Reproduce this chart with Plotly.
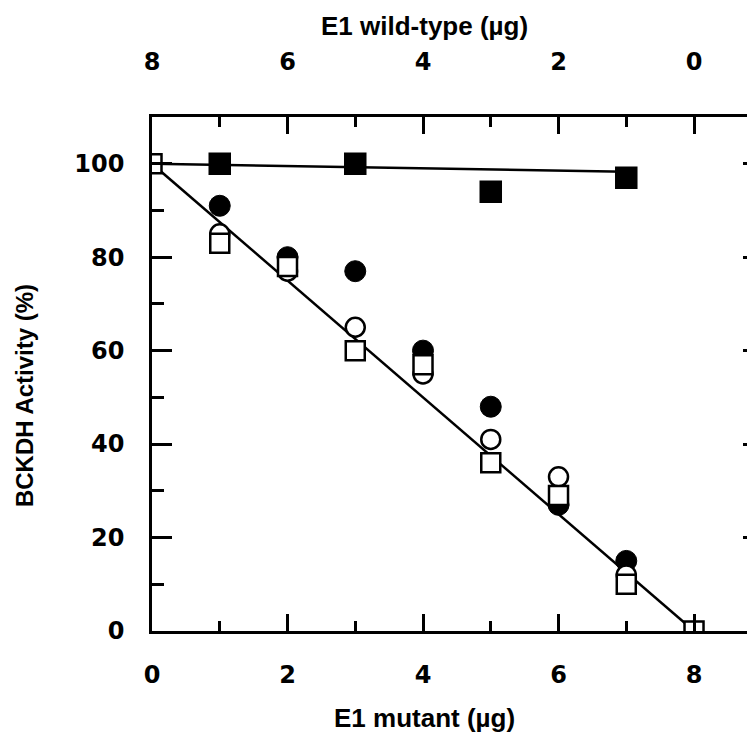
import plotly.graph_objects as go

# ---- data ----
filled_sq_x = [1, 3, 5, 7]
filled_sq_y = [100, 100, 94, 97]

filled_circ_x = [1, 2, 3, 4, 5, 6, 7]
filled_circ_y = [91, 80, 77, 60, 48, 27, 15]

open_circ_x = [1, 2, 3, 4, 5, 6, 7]
open_circ_y = [85, 77, 65, 55, 41, 33, 12]

open_sq_x = [0, 1, 2, 3, 4, 5, 6, 7, 8]
open_sq_y = [100, 83, 78, 60, 57, 36, 29, 10, 0]

fit_diag_x = [0, 8]
fit_diag_y = [100, 0]
fit_flat_x = [0, 7]
fit_flat_y = [100, 98.3]

bottom_ticks = [0, 2, 4, 6, 8]
bottom_minor = [1, 3, 5, 7]
top_ticks = [8, 6, 4, 2, 0]
top_minor = [7, 5, 3, 1]
y_ticks = [0, 20, 40, 60, 80, 100]
y_minor = [10, 30, 50, 70, 90]

FONT = "Arial, Liberation Sans, Helvetica, sans-serif"
TICKFONT = "DejaVu Sans, Arial, sans-serif"
BLACK = "black"

fig = go.Figure()

# fitted lines
fig.add_trace(go.Scatter(x=fit_diag_x, y=fit_diag_y, mode="lines",
                         line=dict(color=BLACK, width=2.5), showlegend=False))
fig.add_trace(go.Scatter(x=fit_flat_x, y=fit_flat_y, mode="lines",
                         line=dict(color=BLACK, width=2.5), showlegend=False))

# markers
fig.add_trace(go.Scatter(x=filled_circ_x, y=filled_circ_y, mode="markers",
                         marker=dict(symbol="circle", size=21, color=BLACK,
                                     line=dict(color=BLACK, width=1)), showlegend=False))
fig.add_trace(go.Scatter(x=open_circ_x, y=open_circ_y, mode="markers",
                         marker=dict(symbol="circle", size=19, color="white",
                                     line=dict(color=BLACK, width=2.5)), showlegend=False))
fig.add_trace(go.Scatter(x=open_sq_x, y=open_sq_y, mode="markers",
                         marker=dict(symbol="square", size=19, color="white",
                                     line=dict(color=BLACK, width=2.5)), showlegend=False))
fig.add_trace(go.Scatter(x=filled_sq_x, y=filled_sq_y, mode="markers",
                         marker=dict(symbol="square", size=21, color=BLACK,
                                     line=dict(color=BLACK, width=1.5)), showlegend=False))

# empty trace so the top / right axes are drawn
fig.add_trace(go.Scatter(x=[], y=[], xaxis="x2", yaxis="y2", showlegend=False))

tickfont = dict(family=TICKFONT, size=24, color=BLACK, weight="bold")
xtitlefont = dict(family=FONT, size=26, color=BLACK, weight="bold")
ytitlefont = dict(family=FONT, size=24, color=BLACK, weight="bold")

fig.update_layout(
    width=747, height=733,
    margin=dict(l=144, r=0, t=109, b=110),
    paper_bgcolor="white", plot_bgcolor="white",
    showlegend=False,
    xaxis=dict(range=[0, 8.9], tickvals=bottom_ticks, ticktext=[str(v) for v in bottom_ticks],
               ticks="inside", ticklen=17, tickwidth=2.5, tickcolor=BLACK,
               minor=dict(tickvals=bottom_minor, ticks="inside", ticklen=10, tickwidth=2.5, tickcolor=BLACK),
               showline=True, linewidth=2.5, linecolor=BLACK, showgrid=False, zeroline=False,
               tickfont=tickfont, ticklabelstandoff=20),
    xaxis2=dict(range=[8, -0.9], overlaying="x", side="top", anchor="y",
                tickvals=top_ticks, ticktext=[str(v) for v in top_ticks],
                ticks="inside", ticklen=17, tickwidth=2.5, tickcolor=BLACK,
                minor=dict(tickvals=top_minor, ticks="inside", ticklen=10, tickwidth=2.5, tickcolor=BLACK),
                showline=True, linewidth=2.5, linecolor=BLACK, showgrid=False, zeroline=False,
                tickfont=tickfont, ticklabelstandoff=35),
    yaxis=dict(range=[0, 110], tickvals=y_ticks, ticktext=[str(v) for v in y_ticks],
               ticks="inside", ticklen=20, tickwidth=2.5, tickcolor=BLACK,
               minor=dict(tickvals=y_minor, ticks="inside", ticklen=12, tickwidth=2.5, tickcolor=BLACK),
               showline=True, linewidth=2.5, linecolor=BLACK, showgrid=False, zeroline=False,
               tickfont=tickfont, ticklabelstandoff=20),
    yaxis2=dict(range=[0, 110], overlaying="y", side="right", anchor="x",
                tickvals=y_ticks, showticklabels=False,
                ticks="inside", ticklen=12, tickwidth=2.5, tickcolor=BLACK,
                minor=dict(tickvals=y_minor, ticks="inside", ticklen=7, tickwidth=2.5, tickcolor=BLACK),
                showline=False, showgrid=False, zeroline=False),
    annotations=[
        dict(text="E1 mutant (µg)", xref="paper", yref="paper", x=0.4527, y=-0.1693,
             showarrow=False, font=xtitlefont, xanchor="center", yanchor="middle"),
        dict(text="E1 wild-type (µg)", xref="paper", yref="paper", x=0.4527, y=1.177,
             showarrow=False, font=xtitlefont, xanchor="center", yanchor="middle"),
        dict(text="BCKDH Activity (%)", xref="paper", yref="paper", x=-0.2123, y=0.459,
             showarrow=False, font=ytitlefont, textangle=-90, xanchor="center", yanchor="middle"),
    ],
)

fig.write_html("out.html")
